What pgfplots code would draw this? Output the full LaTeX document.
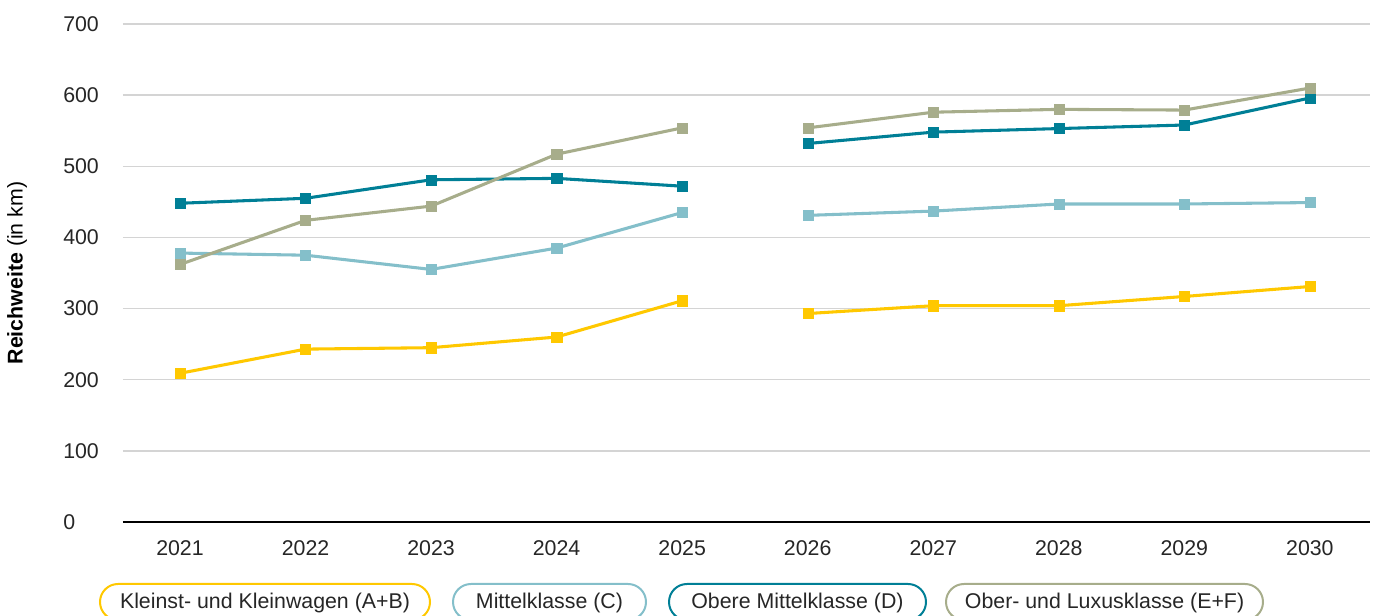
\documentclass[border=0pt]{standalone}
\usepackage{fontspec}
\setmainfont{Liberation Sans}
\usepackage{pgfplots}
\pgfplotsset{compat=1.18}
\usepackage{pgfplotstable}

\definecolor{cKlein}{HTML}{FFC800}
\definecolor{cMittel}{HTML}{84BFCA}
\definecolor{cObere}{HTML}{007F96}
\definecolor{cLuxus}{HTML}{A7AD8B}
\definecolor{gridgrey}{HTML}{D4D4D4}
\definecolor{txt}{HTML}{262626}

\newcommand{\chartfont}{\fontsize{16}{19}\selectfont}

% Reichweite je Fahrzeugklasse (in km); nan trennt 2025 von 2026
\pgfplotstableread{
year km
2021 209
2022 243
2023 245
2024 260
2025 311
2025.5 nan
2026 293
2027 304
2028 304
2029 317
2030 331
}\klein
\pgfplotstableread{
year km
2021 378
2022 375
2023 355
2024 385
2025 435
2025.5 nan
2026 431
2027 437
2028 447
2029 447
2030 449
}\mittel
\pgfplotstableread{
year km
2021 448
2022 455
2023 481
2024 483
2025 472
2025.5 nan
2026 532
2027 548
2028 553
2029 558
2030 596
}\obere
\pgfplotstableread{
year km
2021 362
2022 424
2023 444
2024 517
2025 554
2025.5 nan
2026 554
2027 576
2028 580
2029 579
2030 610
}\luxus

\begin{document}
\begin{tikzpicture}
\begin{axis}[
  at={(92.25pt,70.5pt)}, anchor=south west,
  scale only axis, width=935.25pt, height=373.5pt,
  xmin=2020.546, xmax=2030.478, ymin=0, ymax=700,
  axis x line*=bottom, axis y line*=left,
  y axis line style={draw=none},
  x axis line style={black, line width=1.5pt, -},
  xtick={2021,...,2030}, ytick={0,100,...,700},
  ymajorgrids, major grid style={gridgrey, line width=1pt},
  major tick length=0pt,
  xticklabel style={font=\chartfont, text=txt, inner sep=0pt, anchor=north, yshift=-13.5pt},
  yticklabel style={font=\chartfont, text=txt, inner sep=0pt, anchor=west, xshift=-45pt},
  /pgf/number format/1000 sep={},
  /pgf/number format/assume math mode=true,
  ylabel={\textbf{Reichweite} (in km)},
  ylabel style={font=\chartfont, text=black, at={(axis description cs:0,0.5)}, anchor=center, yshift=79.5pt, inner sep=0pt},
  unbounded coords=jump,
  clip=false,
  every axis plot/.append style={line width=2.3pt, mark=square*, mark size=3.8pt, mark options={solid, line width=0.3pt}},
]
\addplot[cKlein]  table[x=year, y=km] {\klein};
\addplot[cMittel] table[x=year, y=km] {\mittel};
\addplot[cObere]  table[x=year, y=km] {\obere};
\addplot[cLuxus]  table[x=year, y=km] {\luxus};
\end{axis}

% Legende als Pillen-Rahmen unter dem Diagramm
\begin{scope}[line width=1.5pt, rounded corners=13.5pt]
  \draw[cKlein]  (75pt,-3pt)    rectangle (322.5pt,24pt);
  \draw[cMittel] (339.75pt,-3pt) rectangle (484.5pt,24pt);
  \draw[cObere]  (501.75pt,-3pt) rectangle (694.5pt,24pt);
  \draw[cLuxus]  (709.5pt,-3pt)  rectangle (947.25pt,24pt);
\end{scope}
\begin{scope}[every node/.style={font=\chartfont, text=txt, inner sep=0pt, anchor=base}]
  \node at (198.75pt,5.5pt) {Kleinst- und Kleinwagen (A+B)};
  \node at (412.1pt,5.5pt)  {Mittelklasse (C)};
  \node at (598.1pt,5.5pt)  {Obere Mittelklasse (D)};
  \node at (828.4pt,5.5pt)  {Ober- und Luxusklasse (E+F)};
\end{scope}

\pgfresetboundingbox
\useasboundingbox (0pt,0pt) rectangle (1033.5pt,462pt);
\end{tikzpicture}
\end{document}
